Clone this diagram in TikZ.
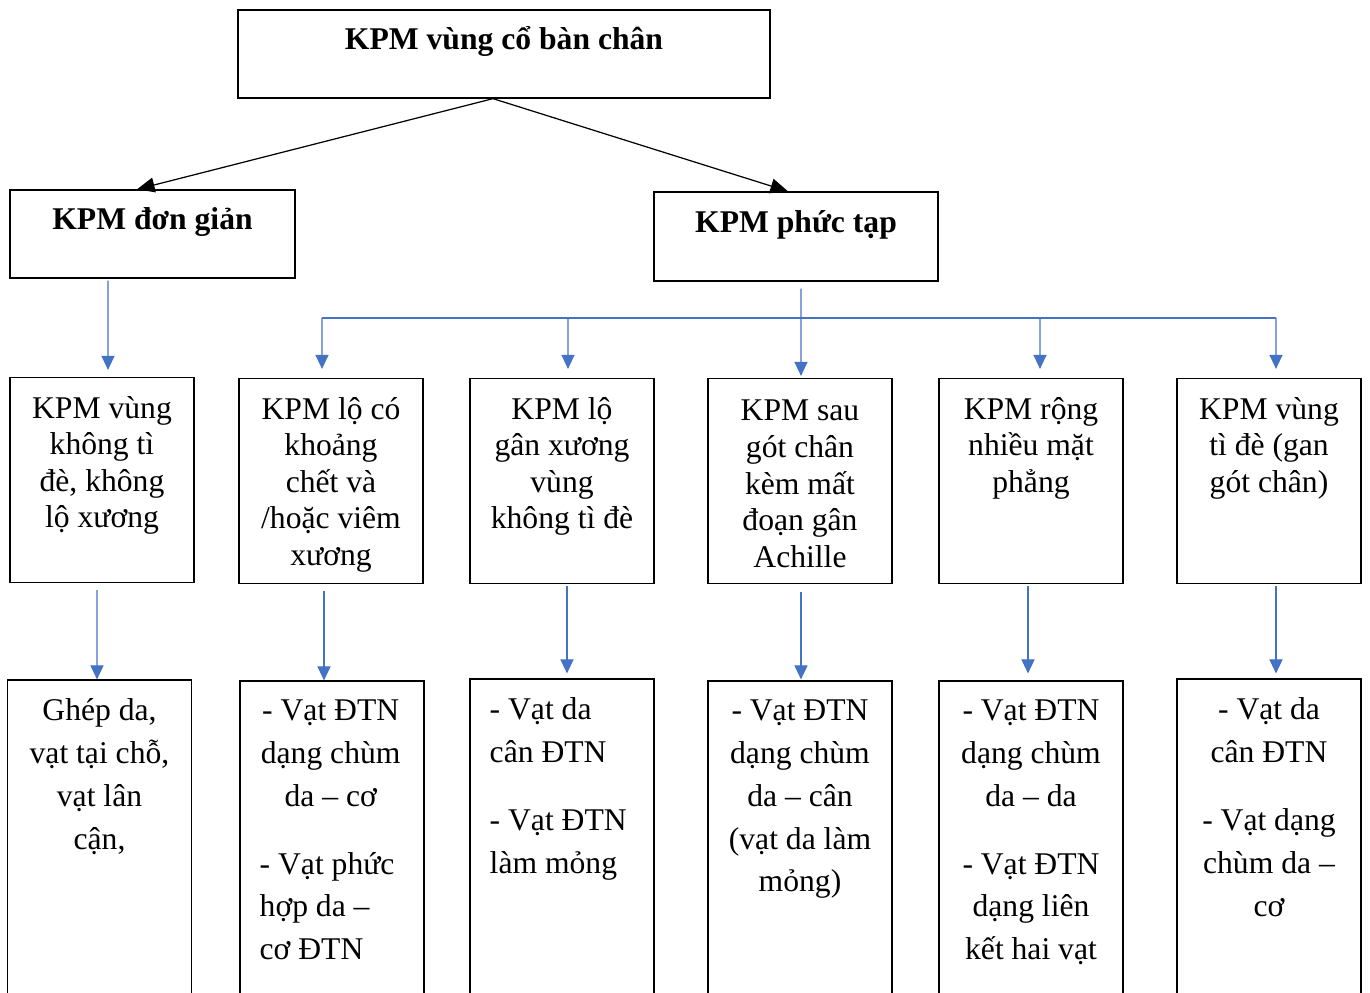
\documentclass[tikz,border=0pt]{standalone}
\usepackage{fontspec}
\setmainfont{Liberation Serif}
\usepackage{xcolor}
\usetikzlibrary{arrows.meta, positioning}
\definecolor{linkblue}{HTML}{4472C4}
\newcommand{\ctrline}[1]{\makebox[2.84cm]{#1}}

\begin{document}
\begin{tikzpicture}[
    x=0.02cm, y=-0.02cm,
    box/.style={rectangle, draw=black, line width=0.75pt, inner sep=0pt},
    headbox/.style={box, minimum height=1.76cm, text height=0.5cm, text depth=0.66cm,
                    font=\bfseries\fontsize{18}{21}\selectfont},
    subbox/.style={box, minimum width=3.68cm, minimum height=4.1cm},
    leafbox/.style={box, minimum width=3.68cm, minimum height=8cm},
    subtext/.style={font=\fontsize{18}{20.8}\selectfont, align=center, inner sep=0pt, anchor=north},
    leaftext/.style={font=\fontsize{18}{24.4}\selectfont, align=center, inner sep=0pt, anchor=north},
    mainarrow/.style={-{Triangle[length=10pt, width=8.5pt]}, line width=0.7pt},
    branch/.style={draw=linkblue, line width=0.6pt},
    brancharrow/.style={branch, -{Triangle[length=8pt, width=7.5pt]}, color=linkblue},
]
\useasboundingbox (0,0) rectangle (1370,993);
\clip (0,0) rectangle (1370,993);

% Top level
\node[headbox, minimum width=10.64cm] (top) at (504,54) {KPM vùng cổ bàn chân};
\node[headbox, minimum width=5.7cm] (simple) at (152.5,234) {KPM đơn giản};
\node[headbox, minimum width=5.68cm, minimum height=1.78cm] (complex) at (796,236.5) {KPM phức tạp};

\draw[mainarrow] ([xshift=-0.22cm]top.south) -- ([xshift=-0.31cm]simple.north);
\draw[mainarrow] ([xshift=-0.22cm]top.south) -- ([xshift=-0.16cm]complex.north);

% Wound types
\node[subbox] (sub1) at (102,480) {};
\node[subbox] (sub2) at (331,481) {};
\node[subbox] (sub3) at (562,481) {};
\node[subbox] (sub4) at (800,481) {};
\node[subbox] (sub5) at (1031,481) {};
\node[subbox] (sub6) at (1269,481) {};

\node[subtext] (s1) at ([yshift=-0.38cm]sub1.north) {KPM vùng\\không tì\\đè, không\\lộ xương};
\node[subtext] (s2) at ([yshift=-0.38cm]sub2.north) {KPM lộ có\\khoảng\\chết và\\/hoặc viêm\\xương};
\node[subtext] (s3) at ([yshift=-0.38cm]sub3.north) {KPM lộ\\gân xương\\vùng\\không tì đè};
\node[subtext] (s4) at ([yshift=-0.44cm]sub4.north) {KPM sau\\gót chân\\kèm mất\\đoạn gân\\Achille};
\node[subtext] (s5) at ([yshift=-0.38cm]sub5.north) {KPM rộng\\nhiều mặt\\phẳng};
\node[subtext] (s6) at ([yshift=-0.38cm]sub6.north) {KPM vùng\\tì đè (gan\\gót chân)};

% Blue branches
\coordinate (busL) at (322,318);
\coordinate (bus3) at (568,318);
\coordinate (bus5) at (1040,318);
\coordinate (busR) at (1276,318);

\draw[brancharrow] ([xshift=-0.89cm, yshift=-0.04cm]simple.south) -- ([xshift=0.12cm, yshift=0.14cm]sub1.north);
\draw[brancharrow] ([xshift=0.1cm, yshift=-0.14cm]complex.south) -- ([xshift=0.02cm, yshift=0.04cm]sub4.north);
\draw[branch] (busL) -- (busR);
\draw[brancharrow] (busL) -- ([xshift=-0.18cm, yshift=0.18cm]sub2.north);
\draw[brancharrow] (bus3) -- ([xshift=0.12cm, yshift=0.18cm]sub3.north);
\draw[brancharrow] (bus5) -- ([xshift=0.18cm, yshift=0.18cm]sub5.north);
\draw[brancharrow] (busR) -- ([xshift=0.14cm, yshift=0.18cm]sub6.north);

% Flap options
\node[leafbox] (leaf1) at (99.5,880) {};
\node[leafbox] (leaf2) at (332,881) {};
\node[leafbox] (leaf3) at (562,879) {};
\node[leafbox] (leaf4) at (800,881) {};
\node[leafbox] (leaf5) at (1031,881) {};
\node[leafbox] (leaf6) at (1269,879) {};

\node[leaftext] (f1) at ([yshift=-0.38cm]leaf1.north) {Ghép da,\\vạt tại chỗ,\\vạt lân\\cận,};
\node[leaftext, align=left, anchor=north west] (f2) at ([xshift=0.4cm, yshift=-0.38cm]leaf2.north west)
    {\ctrline{- Vạt ĐTN}\\\ctrline{dạng chùm}\\\ctrline{da – cơ}\\[0.5cm]- Vạt phức\\hợp da –\\cơ ĐTN};
\node[leaftext, align=left, anchor=north west] (f3) at ([xshift=0.4cm, yshift=-0.38cm]leaf3.north west)
    {- Vạt da\\cân ĐTN\\[0.5cm]- Vạt ĐTN\\làm mỏng};
\node[leaftext] (f4) at ([yshift=-0.38cm]leaf4.north) {- Vạt ĐTN\\dạng chùm\\da – cân\\(vạt da làm\\mỏng)};
\node[leaftext] (f5) at ([yshift=-0.38cm]leaf5.north) {- Vạt ĐTN\\dạng chùm\\da – da\\[0.5cm]- Vạt ĐTN\\dạng liên\\kết hai vạt};
\node[leaftext] (f6) at ([yshift=-0.38cm]leaf6.north) {- Vạt da\\cân ĐTN\\[0.5cm]- Vạt dạng\\chùm da –\\cơ};

\draw[brancharrow] ([xshift=-0.1cm, yshift=-0.14cm]sub1.south) -- ([xshift=-0.05cm]leaf1.north);
\draw[brancharrow] ([xshift=-0.14cm, yshift=-0.14cm]sub2.south) -- ([xshift=-0.16cm]leaf2.north);
\draw[brancharrow] ([xshift=0.1cm, yshift=-0.04cm]sub3.south) -- ([xshift=0.1cm, yshift=0.1cm]leaf3.north);
\draw[brancharrow] ([xshift=0.02cm, yshift=-0.16cm]sub4.south) -- ([xshift=0.02cm, yshift=0.02cm]leaf4.north);
\draw[brancharrow] ([xshift=-0.06cm, yshift=-0.04cm]sub5.south) -- ([xshift=-0.06cm, yshift=0.14cm]leaf5.north);
\draw[brancharrow] ([xshift=0.14cm, yshift=-0.04cm]sub6.south) -- ([xshift=0.14cm, yshift=0.1cm]leaf6.north);

\end{tikzpicture}
\end{document}
